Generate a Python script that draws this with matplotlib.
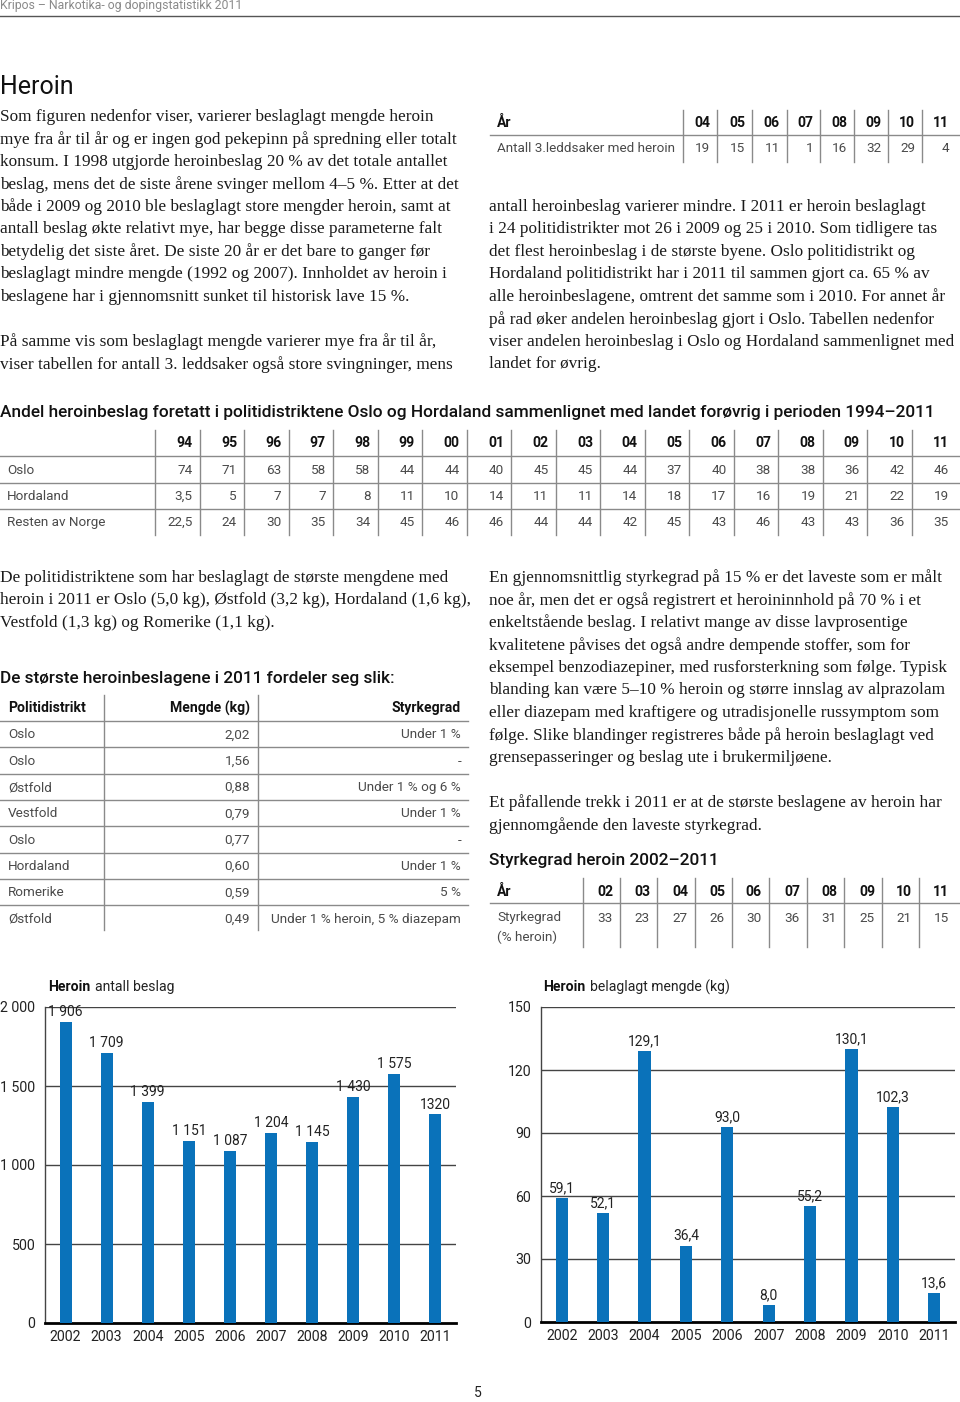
import numpy as np
import matplotlib
matplotlib.use('Agg')
import matplotlib.pyplot as plt

# ---- data ----
ledd_aar = ['04', '05', '06', '07', '08', '09', '10', '11']
leddsaker = [19, 15, 11, 1, 16, 32, 29, 4]

andel_aar = ['94', '95', '96', '97', '98', '99', '00', '01', '02',
             '03', '04', '05', '06', '07', '08', '09', '10', '11']
andel_oslo = ['74', '71', '63', '58', '58', '44', '44', '40', '45',
              '45', '44', '37', '40', '38', '38', '36', '42', '46']
andel_hordaland = ['3,5', '5', '7', '7', '8', '11', '10', '14', '11',
                   '11', '14', '18', '17', '16', '19', '21', '22', '19']
andel_resten = ['22,5', '24', '30', '35', '34', '45', '46', '46', '44',
                '44', '42', '45', '43', '46', '43', '43', '36', '35']

distrikt = ['Oslo', 'Oslo', 'Østfold', 'Vestfold', 'Oslo', 'Hordaland', 'Romerike', 'Østfold']
mengde_tab = ['2,02', '1,56', '0,88', '0,79', '0,77', '0,60', '0,59', '0,49']
styrke_tab = ['Under 1 %', '-', 'Under 1 % og 6 %', 'Under 1 %', '-',
              'Under 1 %', '5 %', 'Under 1 % heroin, 5 % diazepam']

styrke_aar = ['02', '03', '04', '05', '06', '07', '08', '09', '10', '11']
styrkegrad = [33, 23, 27, 26, 30, 36, 31, 25, 21, 15]

aar = ['2002', '2003', '2004', '2005', '2006', '2007', '2008', '2009', '2010', '2011']
antall = [1906, 1709, 1399, 1151, 1087, 1204, 1145, 1430, 1575, 1320]
antall_lbl = ['1 906', '1 709', '1 399', '1 151', '1 087', '1 204', '1 145', '1 430', '1 575', '1320']
mengde_kg = [59.1, 52.1, 129.1, 36.4, 93.0, 8.0, 55.2, 130.1, 102.3, 13.6]

# ---- tekst ----
venstre1 = [
    'Som figuren nedenfor viser, varierer beslaglagt mengde heroin',
    'mye fra år til år og er ingen god pekepinn på spredning eller totalt',
    'konsum. I 1998 utgjorde heroinbeslag 20 % av det totale antallet',
    'beslag, mens det de siste årene svinger mellom 4–5 %. Etter at det',
    'både i 2009 og 2010 ble beslaglagt store mengder heroin, samt at',
    'antall beslag økte relativt mye, har begge disse parameterne falt',
    'betydelig det siste året. De siste 20 år er det bare to ganger før',
    'beslaglagt mindre mengde (1992 og 2007). Innholdet av heroin i',
    'beslagene har i gjennomsnitt sunket til historisk lave 15 %.',
]
venstre2 = [
    'På samme vis som beslaglagt mengde varierer mye fra år til år,',
    'viser tabellen for antall 3. leddsaker også store svingninger, mens',
]
hoyre1 = [
    'antall heroinbeslag varierer mindre. I 2011 er heroin beslaglagt',
    'i 24 politidistrikter mot 26 i 2009 og 25 i 2010. Som tidligere tas',
    'det flest heroinbeslag i de største byene. Oslo politidistrikt og',
    'Hordaland politidistrikt har i 2011 til sammen gjort ca. 65 % av',
    'alle heroinbeslagene, omtrent det samme som i 2010. For annet år',
    'på rad øker andelen heroinbeslag gjort i Oslo. Tabellen nedenfor',
    'viser andelen heroinbeslag i Oslo og Hordaland sammenlignet med',
    'landet for øvrig.',
]
venstre3 = [
    'De politidistriktene som har beslaglagt de største mengdene med',
    'heroin i 2011 er Oslo (5,0 kg), Østfold (3,2 kg), Hordaland (1,6 kg),',
    'Vestfold (1,3 kg) og Romerike (1,1 kg).',
]
hoyre2 = [
    'En gjennomsnittlig styrkegrad på 15 % er det laveste som er målt',
    'noe år, men det er også registrert et heroininnhold på 70 % i et',
    'enkeltstående beslag. I relativt mange av disse lavprosentige',
    'kvalitetene påvises det også andre dempende stoffer, som for',
    'eksempel benzodiazepiner, med rusforsterkning som følge. Typisk',
    'blanding kan være 5–10 % heroin og større innslag av alprazolam',
    'eller diazepam med kraftigere og utradisjonelle russymptom som',
    'følge. Slike blandinger registreres både på heroin beslaglagt ved',
    'grensepasseringer og beslag ute i brukermiljøene.',
]
hoyre3 = [
    'Et påfallende trekk i 2011 er at de største beslagene av heroin har',
    'gjennomgående den laveste styrkegrad.',
]

W, H = 960, 1402
blue = '#0a72ba'
grid = '#444444'
tab_line = '#8a8a8a'
cell = '#4a4a4a'
serif = 'Liberation Serif'
sans = 'Roboto'
cs = 10.1      # tabelloverskrift
cv = 9.7       # tabellceller
hs = 12.4      # overskrifter

fig = plt.figure(figsize=(W / 100, H / 100), dpi=100)
bg = fig.add_axes([0, 0, 1, 1])
bg.set_xlim(0, W)
bg.set_ylim(H, 0)
bg.axis('off')


def txt(x, y, s, size=10, weight='normal', ha='left', color='#222222', family=sans, va='center'):
    bg.text(x, y, s, fontsize=size, fontweight=weight, ha=ha, va=va, color=color, family=family)


def para(x, y0, lines, step=22.45):
    for i, l in enumerate(lines):
        txt(x, y0 + i * step, l, size=12.4, family=serif, color='#1a1a1a', va='center_baseline')


# topptekst
txt(0, 6, 'Kripos – Narkotika- og dopingstatistikk 2011', size=8.8, color='#8a8a8a')
bg.plot([0, W], [16, 16], color='#555555', lw=1)
txt(0, 87, 'Heroin', size=18, color='#111111')

para(0, 115, venstre1)
para(0, 340, venstre2)
para(489, 205, hoyre1)
para(0, 576, venstre3)
para(489, 576, hoyre2)
para(489, 801, hoyre3)

# tabell: 3.leddsaker
sep = [683, 717, 752, 787, 820, 854, 888, 922, 956]
txt(497, 123, 'År', size=cs, weight='bold', color='#111111')
txt(497, 149, 'Antall 3.leddsaker med heroin', size=cv, color=cell)
for i, a in enumerate(ledd_aar):
    txt(sep[i + 1] - 7, 123, a, size=cs, weight='bold', ha='right', color='#111111')
    txt(sep[i + 1] - 7, 149, str(leddsaker[i]), size=cv, ha='right', color=cell)
    bg.plot([sep[i], sep[i]], [110, 162], color=tab_line, lw=1)
bg.plot([490, W], [135, 135], color=tab_line, lw=1)

# tabell: andel
txt(0, 413, 'Andel heroinbeslag foretatt i politidistriktene Oslo og Hordaland sammenlignet med landet forøvrig i perioden 1994–2011',
    size=hs, weight='medium', color='#111111')
x0, cw = 155, 44.5
rader = [('Oslo', andel_oslo), ('Hordaland', andel_hordaland), ('Resten av Norge', andel_resten)]
for i, a in enumerate(andel_aar):
    xl = x0 + i * cw
    bg.plot([xl, xl], [430, 535], color=tab_line, lw=1)
    txt(xl + cw - 7, 443, a, size=cs, weight='bold', ha='right', color='#111111')
    for r, (navn, vals) in enumerate(rader):
        txt(xl + cw - 7, 470 + r * 26.2, vals[i], size=cv, ha='right', color=cell)
for r, (navn, vals) in enumerate(rader):
    txt(7, 470 + r * 26.2, navn, size=cv, color=cell)
for y in [456, 483, 509]:
    bg.plot([0, W], [y, y], color=tab_line, lw=1)

# tabell: største beslag
txt(0, 679, 'De største heroinbeslagene i 2011 fordeler seg slik:', size=hs, weight='medium', color='#111111')
txt(8, 708, 'Politidistrikt', size=cs, weight='bold', color='#111111')
txt(250, 708, 'Mengde (kg)', size=cs, weight='bold', ha='right', color='#111111')
txt(461, 708, 'Styrkegrad', size=cs, weight='bold', ha='right', color='#111111')
for i in range(len(distrikt)):
    y = 735 + i * 26.3
    txt(8, y, distrikt[i], size=cv, color=cell)
    txt(250, y, mengde_tab[i], size=cv, ha='right', color=cell)
    txt(461, y, styrke_tab[i], size=cv, ha='right', color=cell)
for i in range(8):
    y = 721 + i * 26.3
    bg.plot([0, 468], [y, y], color=tab_line, lw=1)
for xv in [104, 258]:
    bg.plot([xv, xv], [695, 930], color=tab_line, lw=1)

# tabell: styrkegrad
txt(489, 861, 'Styrkegrad heroin 2002–2011', size=hs, weight='medium', color='#111111')
sep2 = [583, 620, 657, 695, 732, 769, 807, 844, 882, 919, 956]
txt(497, 892, 'År', size=cs, weight='bold', color='#111111')
txt(497, 918, 'Styrkegrad', size=cv, color=cell)
txt(497, 937, '(% heroin)', size=cv, color=cell)
for i, a in enumerate(styrke_aar):
    txt(sep2[i + 1] - 7, 892, a, size=cs, weight='bold', ha='right', color='#111111')
    txt(sep2[i + 1] - 7, 918, str(styrkegrad[i]), size=cv, ha='right', color=cell)
    bg.plot([sep2[i], sep2[i]], [878, 947], color=tab_line, lw=1)
bg.plot([490, W], [903, 903], color=tab_line, lw=1)

# sidetall
txt(478, 1393, '5', size=10, color='#222222', ha='center')


# ---- stolpediagram ----
def bars(left, right, top, bottom, vals, lbls, ymax, yticks, ytlbls):
    ax = fig.add_axes([left / W, (H - bottom) / H, (right - left) / W, (bottom - top) / H])
    x = np.arange(len(vals))
    ax.bar(x, vals, width=0.29, color=blue, zorder=3)
    ax.set_xlim(-0.5, len(vals) - 0.5)
    ax.set_ylim(0, ymax)
    ax.set_yticks(yticks)
    ax.set_yticklabels(ytlbls)
    ax.set_xticks(x)
    ax.set_xticklabels(aar)
    for yv in yticks[1:]:
        ax.axhline(yv, color=grid, lw=1, zorder=1)
    for s in ['top', 'right']:
        ax.spines[s].set_visible(False)
    ax.spines['left'].set_color(grid)
    ax.spines['left'].set_linewidth(1)
    ax.spines['bottom'].set_color('black')
    ax.spines['bottom'].set_linewidth(2)
    ax.tick_params(length=0, labelsize=10.2, colors='#222222')
    ax.tick_params(axis='y', pad=7)
    ax.tick_params(axis='x', pad=5)
    for lab in ax.get_xticklabels() + ax.get_yticklabels():
        lab.set_family(sans)
    for xi, v, l in zip(x, vals, lbls):
        ax.annotate(l, (xi, v), xytext=(0, 2), textcoords='offset points', ha='center', va='bottom',
                    fontsize=10, family=sans, color='#222222', zorder=4)
    ax.patch.set_alpha(0)
    return ax


ax1 = bars(45, 456, 1007, 1323, antall, antall_lbl, 2000, [0, 500, 1000, 1500, 2000],
           ['0', '500', '1 000', '1 500', '2 000'])
ax2 = bars(541, 955, 1007, 1322, mengde_kg, [f'{v:.1f}'.replace('.', ',') for v in mengde_kg], 150,
           [0, 30, 60, 90, 120, 150], ['0', '30', '60', '90', '120', '150'])

txt(48, 987, 'Heroin', size=cs, weight='bold', color='#111111')
txt(95, 987, 'antall beslag', size=cs, color='#222222')
txt(543, 987, 'Heroin', size=cs, weight='bold', color='#111111')
txt(590, 987, 'belaglagt mengde (kg)', size=cs, color='#222222')

fig.savefig('out.png', dpi=100)
